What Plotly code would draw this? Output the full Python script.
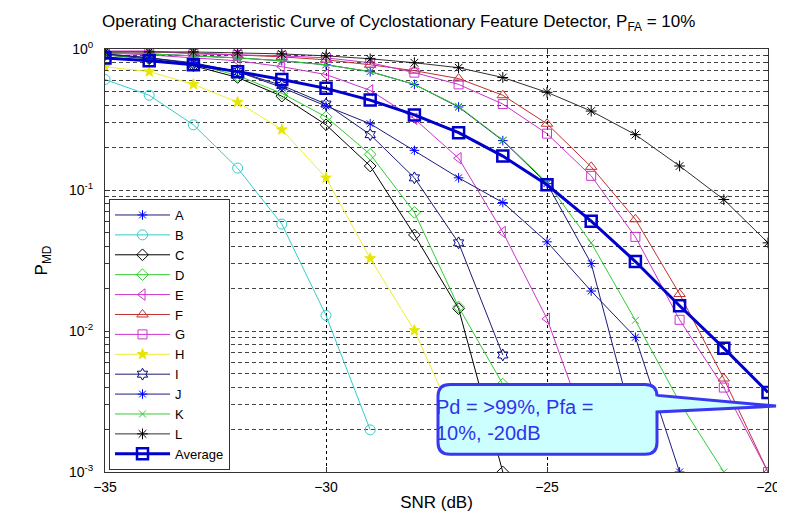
import plotly.graph_objects as go

snr = list(range(-35, -19))  # -35 ... -20

A = [0.938, 0.923, 0.894, 0.865, 0.825, 0.773, 0.691, 0.561, 0.388, 0.224, 0.111, 0.0301, 0.00193]
B = [0.608, 0.470, 0.290, 0.143, 0.0573, 0.0129, 0.00199]
C = [0.908, 0.852, 0.761, 0.628, 0.463, 0.290, 0.148, 0.048, 0.0144, 0.001]
D = [0.908, 0.865, 0.786, 0.648, 0.485, 0.330, 0.179, 0.0694, 0.0148, 0.0042]
E = [0.938, 0.908, 0.865, 0.825, 0.749, 0.659, 0.509, 0.320, 0.168, 0.0503, 0.0122, 0.00164]
F = [0.953, 0.953, 0.938, 0.908, 0.879, 0.838, 0.773, 0.702, 0.617, 0.470, 0.295, 0.146, 0.0620, 0.0183, 0.0046, 0.001]
G = [0.968, 0.968, 0.923, 0.908, 0.894, 0.865, 0.799, 0.680, 0.561, 0.407, 0.251, 0.126, 0.0465, 0.0120, 0.00397, 0.001]
H = [0.749, 0.691, 0.561, 0.420, 0.268, 0.122, 0.0327, 0.0101, 0.002]
I = [0.923, 0.865, 0.786, 0.691, 0.552, 0.407, 0.247, 0.122, 0.0422, 0.00676]
J = [0.923, 0.865, 0.799, 0.691, 0.534, 0.394, 0.295, 0.191, 0.122, 0.0815, 0.0429, 0.0192, 0.00902, 0.001]
K = [0.938, 0.923, 0.894, 0.865, 0.825, 0.773, 0.691, 0.561, 0.392, 0.226, 0.113, 0.0422, 0.0119, 0.00312, 0.001]
L = [0.953, 0.953, 0.953, 0.938, 0.923, 0.894, 0.852, 0.799, 0.737, 0.628, 0.493, 0.363, 0.247, 0.148, 0.0856, 0.0422]
AVG = [0.865, 0.825, 0.773, 0.691, 0.608, 0.526, 0.434, 0.341, 0.255, 0.174, 0.109, 0.0601, 0.0311, 0.0151, 0.00756, 0.00367]

y_tick_vals = [1e-3, 1e-2, 1e-1, 1]
y_tick_text = ["10<sup>-3</sup>", "10<sup>-2</sup>", "10<sup>-1</sup>", "10<sup>0</sup>"]
x_tick_vals = [-35, -30, -25, -20]
callout_text = "Pd = >99%, Pfa =<br>10%, -20dB"

series = [
    ("A", A, "#1c1c7a", "#0000ff", "asterisk-open", 8, 1),
    ("B", B, "#33cccc", "#33cccc", "circle-open", 10, 1),
    ("C", C, "#000000", "#000000", "diamond-open", 9, 1),
    ("D", D, "#33cc33", "#33cc33", "diamond-open", 9, 1),
    ("E", E, "#cc33cc", "#cc33cc", "triangle-left-open", 10, 1),
    ("F", F, "#c03030", "#c03030", "triangle-up-open", 10, 1),
    ("G", G, "#cc33cc", "#cc33cc", "square-open", 9, 1),
    ("H", H, "#eeee33", "#e6e600", "star", 8, 1),
    ("I", I, "#1c1c6e", "#00008b", "hexagram-open", 9, 1),
    ("J", J, "#1c1c7a", "#0000ff", "asterisk-open", 8, 1),
    ("K", K, "#33cc33", "#33cc33", "x-thin-open", 7, 1),
    ("L", L, "#303030", "#000000", "asterisk-open", 9, 1),
]

fig = go.Figure()
for name, vals, lc, mc, sym, ms, lw in series:
    fig.add_trace(go.Scatter(
        x=snr[:len(vals)], y=vals, name=name, mode="lines+markers",
        line=dict(color=lc, width=lw),
        marker=dict(symbol=sym, size=ms, color=mc, line=dict(color=mc, width=1)),
    ))
fig.add_trace(go.Scatter(
    x=snr[:len(AVG)], y=AVG, name="Average", mode="lines+markers",
    line=dict(color="#0000cc", width=3),
    marker=dict(symbol="square-open", size=11, color="#0000cc", line=dict(color="#0000cc", width=2.5)),
))

# plot area in pixels
L_px, R_px, T_px, B_px = 97, 760, 41, 471
W, Hh = 785, 513
def px(x):
    return (x - L_px) / (R_px - L_px)
def py(y):
    return (B_px - y) / (B_px - T_px)

# callout shape (rounded box with pointer)
x0, x1, y0, y1, r = 430, 649, 382, 453, 12
tipx, tipy = 768, 404
path = (
    f"M {px(x0+r)},{py(y0)} L {px(x1-r)},{py(y0)} "
    f"Q {px(x1)},{py(y0)} {px(x1)},{py(y0+r)} "
    f"L {px(x1)},{py(393)} L {px(tipx)},{py(tipy)} L {px(x1)},{py(410)} "
    f"L {px(x1)},{py(y1-r)} Q {px(x1)},{py(y1)} {px(x1-r)},{py(y1)} "
    f"L {px(x0+r)},{py(y1)} Q {px(x0)},{py(y1)} {px(x0)},{py(y1-r)} "
    f"L {px(x0)},{py(y0+r)} Q {px(x0)},{py(y0)} {px(x0+r)},{py(y0)} Z"
)
fig.add_shape(type="path", path=path, xref="paper", yref="paper",
              fillcolor="#ccffff", line=dict(color="#3838f0", width=3), layer="above")
fig.add_annotation(x=px(426), y=py(418), xref="paper", yref="paper",
                   text=callout_text, showarrow=False, xanchor="left", yanchor="middle",
                   align="left", font=dict(family="Liberation Sans, Arial", size=20, color="#3333ee"))

minor_vals = [m * 10.0**e for e in (-3, -2, -1) for m in range(2, 10)]

fig.update_layout(
    width=W, height=Hh,
    margin=dict(l=L_px, r=W - R_px, t=T_px, b=Hh - B_px),
    paper_bgcolor="white", plot_bgcolor="white",
    font=dict(family="Liberation Sans, Arial", size=14, color="black"),
    title=dict(text="Operating Characteristic Curve of Cyclostationary Feature Detector, P<sub>FA</sub> = 10%",
               x=px(427), xanchor="center", y=1 - 13 / Hh, yanchor="middle",
               font=dict(size=17, color="black")),
    showlegend=True,
    legend=dict(x=px(101), y=py(469), xanchor="left", yanchor="bottom",
                bgcolor="white", bordercolor="#333333", borderwidth=1,
                font=dict(size=13), tracegroupgap=0, itemwidth=55),
    xaxis=dict(range=[-35, -20], tickvals=x_tick_vals, showgrid=True,
               gridcolor="black", griddash="dot", gridwidth=1,
               showline=True, linecolor="#333333", mirror="allticks",
               ticks="inside", ticklen=5, tickcolor="#333333",
               zeroline=False, title=dict(text="SNR (dB)", standoff=2),
               tickfont=dict(size=14), ticklabelstandoff=2),
    yaxis=dict(type="log", range=[-3, 0], tickvals=y_tick_vals, ticktext=y_tick_text,
               showgrid=True, gridcolor="#444444", griddash="4px,3px", gridwidth=1,
               showline=True, linecolor="#333333", mirror="allticks",
               ticks="inside", ticklen=5, tickcolor="#333333",
               minor=dict(tickvals=minor_vals, showgrid=True, gridcolor="#444444",
                          griddash="4px,3px", gridwidth=1, ticks="inside", ticklen=3,
                          tickcolor="#333333"),
               title=dict(text="P<sub>MD</sub>", standoff=16),
               tickfont=dict(size=14), ticklabelstandoff=8),
)

fig.write_html("out.html")
